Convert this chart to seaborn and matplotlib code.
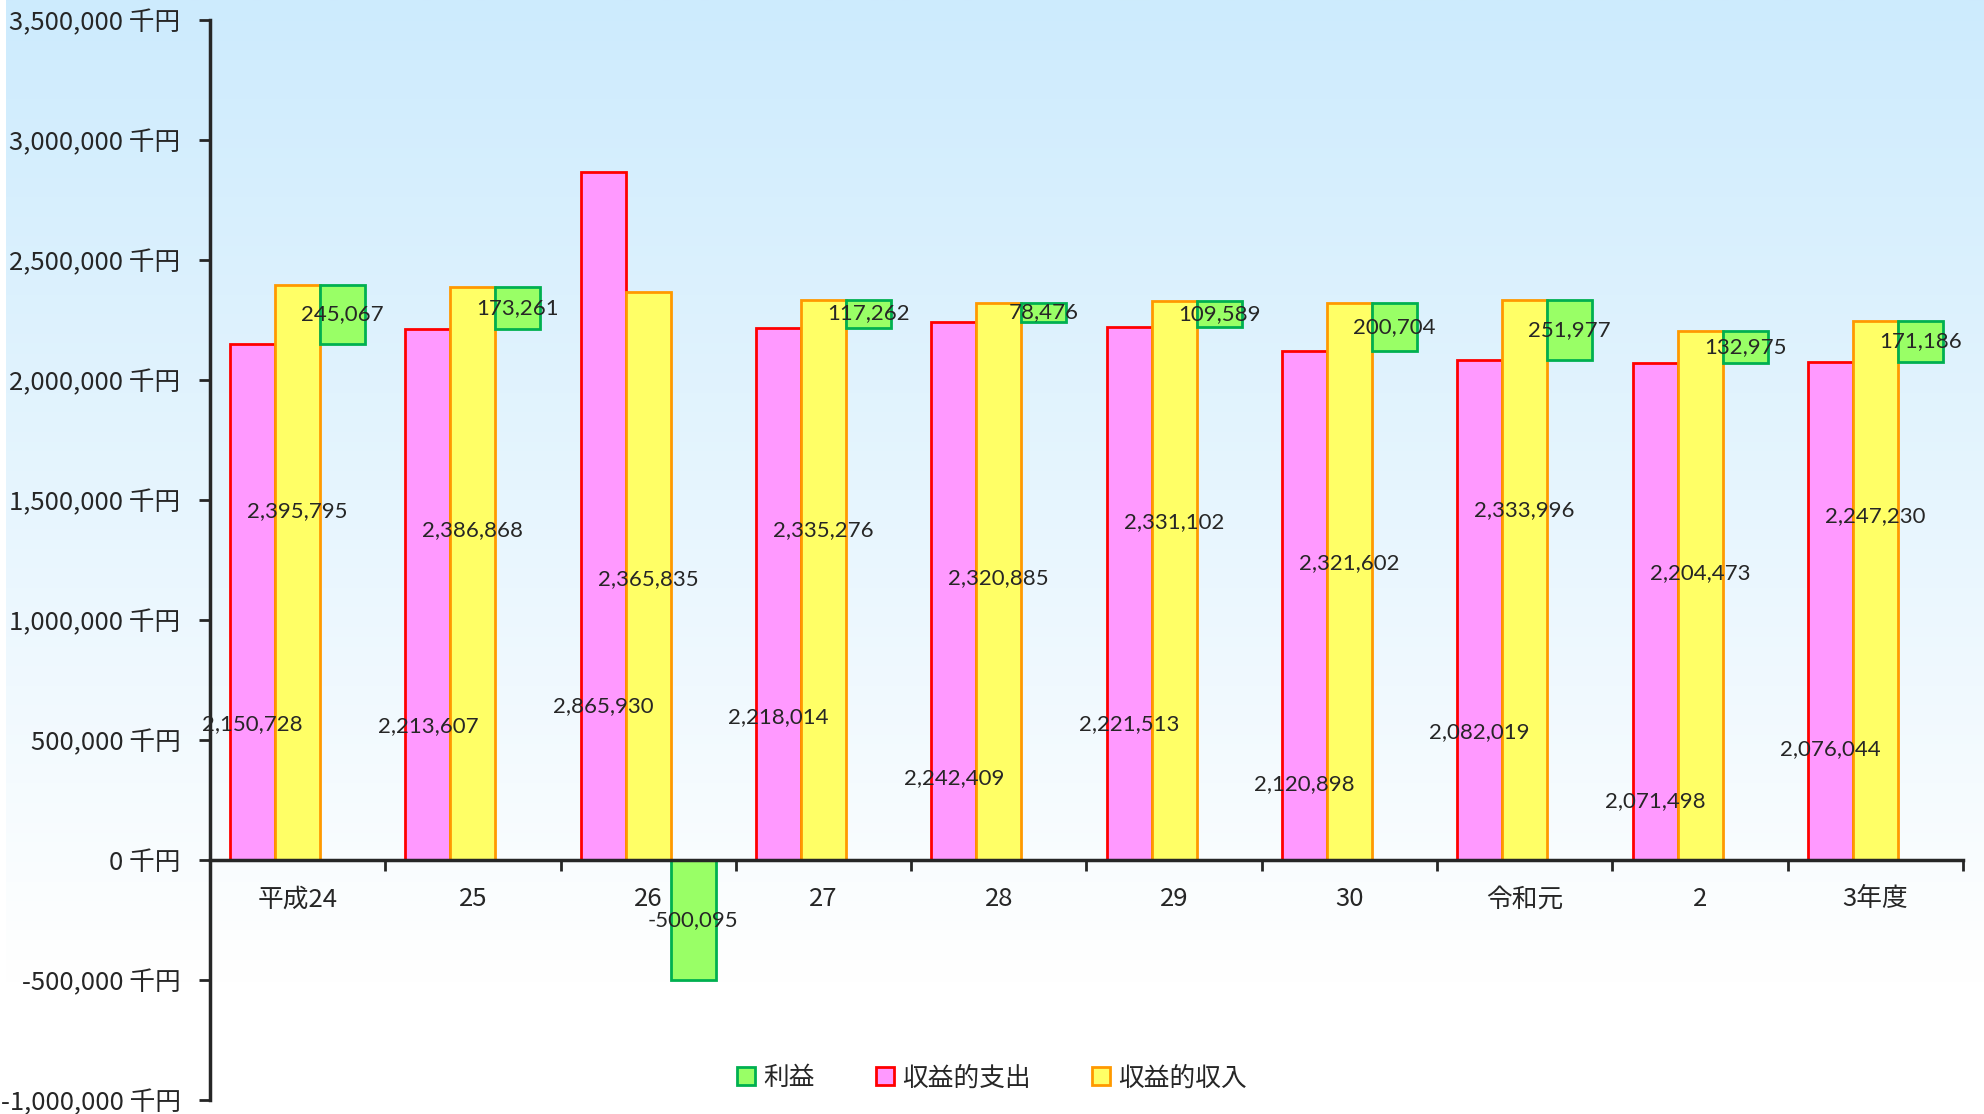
import numpy as np
import pandas as pd
import matplotlib
matplotlib.use("Agg")
import matplotlib.pyplot as plt
from matplotlib.patches import Patch
import seaborn as sns

years = ['平成24', '25', '26', '27', '28', '29', '30', '令和元', '2', '3年度']
expense = [2150728, 2213607, 2865930, 2218014, 2242409, 2221513, 2120898, 2082019, 2071498, 2076044]
revenue = [2395795, 2386868, 2365835, 2335276, 2320885, 2331102, 2321602, 2333996, 2204473, 2247230]
profit = [245067, 173261, -500095, 117262, 78476, 109589, 200704, 251977, 132975, 171186]

# where the value labels sit (data units)
expense_label_y = [567000, 558000, 642000, 594000, 341000, 567000, 315000, 531000, 246000, 462000]
revenue_label_y = [1454000, 1375000, 1169000, 1375000, 1175000, 1406000, 1237000, 1458000, 1196000, 1433000]

sns.set_style("white")
plt.rcParams['font.family'] = ['Noto Sans CJK JP', 'DejaVu Sans']

df = pd.DataFrame({
    'year': years * 3,
    'kind': ['収益的支出'] * 10 + ['収益的収入'] * 10 + ['利益'] * 10,
    'value': expense + revenue + profit,
})

fills = {'収益的支出': '#FF99FF', '収益的収入': '#FFFF66', '利益': '#99FF66'}
edges = {'収益的支出': '#FF0000', '収益的収入': '#FF9900', '利益': '#00B050'}
order = ['収益的支出', '収益的収入', '利益']

fig = plt.figure(figsize=(19.84, 11.14), dpi=100)

# background gradient light blue -> white
bg = fig.add_axes([0.003, 0, 0.997, 1], zorder=0)
t = np.linspace(0, 1, 400)
t = np.clip(t / 0.88, 0, 1)
top = np.array([205, 235, 253]) / 255
grad = top[None, :] * (1 - t[:, None]) + np.ones(3)[None, :] * t[:, None]
bg.imshow(grad[:, None, :], aspect='auto', extent=[0, 1, 0, 1])
bg.axis('off')

ax = fig.add_axes([0.1058, 0.01257, 0.8836, 0.9695], zorder=1)
ax.patch.set_alpha(0)

sns.barplot(data=df, x='year', y='value', hue='kind', hue_order=order,
            palette=fills, saturation=1, width=0.77, ax=ax, legend=False, zorder=3)

for kind, cont in zip(order, ax.containers):
    for p in cont:
        p.set_edgecolor(edges[kind])
        p.set_linewidth(2)

# profit bars float on top of the expense bar when positive
green = ax.containers[2]
for p, e, pr in zip(green, expense, profit):
    if pr > 0:
        p.set_y(e)

lab_font = dict(family=['Lato', 'DejaVu Sans'], fontsize=16, ha='center', va='center', zorder=5)
for i, (e, r, pr) in enumerate(zip(expense, revenue, profit)):
    pe = ax.containers[0][i]
    prv = ax.containers[1][i]
    gp = green[i]
    ax.text(pe.get_x() + pe.get_width() / 2, expense_label_y[i], f'{e:,}', **lab_font)
    ax.text(prv.get_x() + prv.get_width() / 2, revenue_label_y[i], f'{r:,}', **lab_font)
    ax.text(gp.get_x() + gp.get_width() / 2, gp.get_y() + gp.get_height() / 2, f'{pr:,}', **lab_font)

ax.set_xlim(-0.5, 9.5)
ax.set_ylim(-1000000, 3500000)
yt = np.arange(-1000000, 3500001, 500000)
ax.set_yticks(yt)
ax.set_yticklabels([f'{v:,} 千円' for v in yt], fontsize=18.5)
ax.set_xlabel('')
ax.set_ylabel('')

ax.spines['top'].set_visible(False)
ax.spines['right'].set_visible(False)
ax.spines['left'].set_linewidth(2.5)
ax.spines['bottom'].set_linewidth(2.5)
ax.spines['bottom'].set_position(('data', 0))
ax.spines['bottom'].set_zorder(4)
ax.tick_params(axis='y', direction='out', length=8, width=2, pad=13, left=True)
ax.tick_params(axis='x', which='major', length=0, pad=19, labelsize=18.5)
ax.set_xticks(np.arange(-0.5, 9.6, 1), minor=True)
ax.tick_params(axis='x', which='minor', direction='out', length=8, width=2, bottom=True)

handles = [Patch(facecolor=fills[k], edgecolor=edges[k], linewidth=2) for k in ['利益', '収益的支出', '収益的収入']]
fig.legend(handles, ['利益', '収益的支出', '収益的収入'], loc='center', bbox_to_anchor=(0.5, 0.032),
           ncol=3, frameon=False, fontsize=18.5, handlelength=0.7, handleheight=0.7,
           handletextpad=0.3, columnspacing=2.4)

fig.savefig('out.png', dpi=100)
